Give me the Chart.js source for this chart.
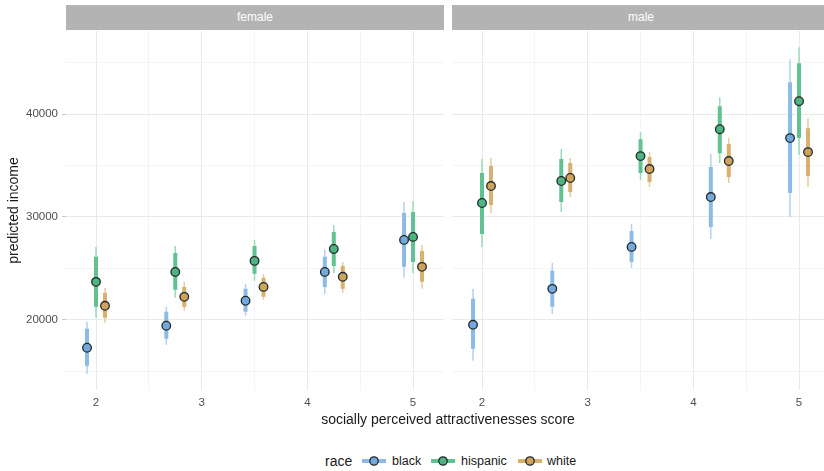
<!DOCTYPE html>
<html>
<head>
<meta charset="utf-8">
<script src="https://cdn.jsdelivr.net/npm/chart.js@4.4.1/dist/chart.umd.min.js"></script>
<style>
  html, body { margin: 0; padding: 0; background: #fff; overflow: hidden; }
  #fig { position: relative; width: 824px; height: 471px; overflow: hidden;
         font-family: "Liberation Sans", Arial, sans-serif; background: #fff; }
  .panel { position: absolute; top: 0; height: 420px; }
  .strip { position: absolute; top: 5px; height: 25px; width: 378px; background: #b3b3b3;
           color: #fff; font-size: 12px; line-height: 25px; text-align: center; }
  #xtitle { position: absolute; left: 0; width: 896px; top: 411px; text-align: center;
            font-size: 14px; line-height: 16px; color: #1a1a1a; white-space: nowrap; }
  .leg { position: absolute; top: 453px; line-height: 16px; color: #1a1a1a; white-space: nowrap; }
  .legkey { position: absolute; top: 454px; }
</style>
</head>
<body>
<div id="fig">
  <div class="panel" style="left:0;width:444px;"><canvas id="female" width="444" height="420"></canvas></div>
  <div class="panel" style="left:452px;width:378px;"><canvas id="male" width="378" height="420"></canvas></div>
  <div class="strip" style="left:66px;">female</div>
  <div class="strip" style="left:452px;">male</div>
  <div id="xtitle">socially perceived attractivenesses score</div>
  <div id="legend"></div>
</div>
<script>
// attractiveness scores where predictions were made
const scores = [2, 2.75, 3.5, 4.25, 5];
const races = ['black', 'hispanic', 'white'];
const xTickValues = [2, 2.5, 3, 3.5, 4, 4.5, 5];
const yTickValues = [15000, 20000, 25000, 30000, 35000, 40000, 45000];

// predicted income per score, each row: [lower 95%, lower 66%, median, upper 66%, upper 95%]
const femaleBlack = [
  [14760, 15530, 17280, 19130, 19810],
  [17570, 18150, 19420, 20780, 21260],
  [20390, 20780, 21850, 23010, 23500],
  [22520, 23200, 24660, 26120, 26800],
  [24080, 25150, 27770, 30390, 31460]
];
const femaleHispanic = [
  [20190, 21260, 23690, 26120, 27090],
  [22140, 22910, 24660, 26500, 27180],
  [23790, 24470, 25730, 27180, 27770],
  [24560, 25240, 26890, 28540, 29220],
  [24560, 25630, 28060, 30490, 31550]
];
const femaleWhite = [
  [19710, 20190, 21360, 22620, 23110],
  [20870, 21260, 22230, 23200, 23690],
  [21940, 22230, 23200, 24080, 24470],
  [22620, 23010, 24180, 25240, 25630],
  [23010, 23690, 25150, 26700, 27280]
];
const maleBlack = [
  [16020, 17180, 19510, 22040, 23010],
  [20580, 21260, 23010, 24760, 25530],
  [25050, 25630, 27090, 28640, 29320],
  [27860, 29030, 31940, 34850, 36120],
  [30000, 32330, 37670, 43110, 45340]
];
const maleHispanic = [
  [27090, 28350, 31360, 34270, 35630],
  [30490, 31460, 33500, 35630, 36600],
  [33590, 34270, 35920, 37570, 38250],
  [35240, 36210, 38540, 40780, 41650],
  [36020, 37670, 41260, 44950, 46510]
];
const maleWhite = [
  [30390, 31170, 33010, 34950, 35730],
  [31940, 32430, 33790, 35240, 35730],
  [32910, 33400, 34660, 35830, 36310],
  [33300, 33880, 35440, 37090, 37670],
  [32910, 33980, 36310, 38640, 39610]
];

// shared axis limits of both facets
const xMin = 1.716, xMax = 5.293;
const yMin = 13170, yMax = 48090;

const palette = {
  black:    { point: '#74a9dd', inner: '#8dbbe7', outer: '#b3d1ef' },
  hispanic: { point: '#4fb47f', inner: '#5fc290', outer: '#9cd9b8' },
  white:    { point: '#cfa35b', inner: '#d8b06f', outer: '#e6cb9f' }
};
const dodge = { black: -0.085, hispanic: 0, white: 0.085 };
const FONT = '"Liberation Sans", Arial, sans-serif';
const MAJOR = '#e9e9e9', MINOR = '#f4f4f4';

function segments(rows, race, lo, hi) {
  const pts = [];
  rows.forEach((r, i) => {
    const x = scores[i] + dodge[race];
    pts.push({ x: x, y: r[lo] }, { x: x, y: r[hi] }, { x: x, y: null });
  });
  return pts;
}

function medians(rows, race) {
  return rows.map((r, i) => ({ x: scores[i] + dodge[race], y: r[2] }));
}

function buildDatasets(groups) {
  const ds = [];
  races.forEach(race => {
    const rows = groups[race];
    const c = palette[race];
    ds.push({
      label: race + ' 95%', data: segments(rows, race, 0, 4), order: 3,
      borderColor: c.outer, borderWidth: 1.5, pointRadius: 0, spanGaps: false,
      fill: false, tension: 0, borderCapStyle: 'butt'
    });
    ds.push({
      label: race + ' 66%', data: segments(rows, race, 1, 3), order: 2,
      borderColor: c.inner, borderWidth: 4, pointRadius: 0, spanGaps: false,
      fill: false, tension: 0, borderCapStyle: 'butt'
    });
    ds.push({
      label: race, data: medians(rows, race), order: 1, showLine: false,
      pointRadius: 4.3, pointBorderWidth: 1.3,
      pointBackgroundColor: c.point, pointBorderColor: '#1f2a2a'
    });
  });
  return ds;
}

function makePanel(id, groups, withYAxis) {
  return new Chart(document.getElementById(id), {
    type: 'line',
    data: { datasets: buildDatasets(groups) },
    options: {
      responsive: false, animation: false, devicePixelRatio: 1, events: [],
      layout: { autoPadding: false, padding: { top: 31, left: 0, right: 0, bottom: 0 } },
      plugins: { legend: { display: false }, tooltip: { enabled: false } },
      scales: {
        x: {
          type: 'linear', min: xMin, max: xMax,
          afterBuildTicks: s => { s.ticks = xTickValues.map(v => ({ value: v })); },
          afterFit: s => { s.height = 30; },
          border: { display: false },
          grid: {
            drawTicks: false,
            color: ctx => (ctx.tick && Number.isInteger(ctx.tick.value)) ? MAJOR : MINOR
          },
          ticks: {
            autoSkip: false, maxRotation: 0, padding: 6, color: '#4d4d4d',
            font: { family: FONT, size: 11.5 },
            callback: v => Number.isInteger(v) ? String(v) : ''
          }
        },
        y: {
          type: 'linear', min: yMin, max: yMax,
          afterBuildTicks: s => { s.ticks = yTickValues.map(v => ({ value: v })); },
          afterFit: s => { s.width = withYAxis ? 66 : 0; },
          border: { display: false },
          grid: {
            drawTicks: withYAxis, tickLength: 4,
            color: ctx => (ctx.tick && ctx.tick.value % 10000 === 0) ? MAJOR : MINOR,
            tickColor: ctx => (ctx.tick && ctx.tick.value % 10000 === 0) ? '#c8c8c8' : 'rgba(0,0,0,0)'
          },
          ticks: {
            display: withYAxis, autoSkip: false, padding: 4, color: '#4d4d4d',
            font: { family: FONT, size: 11.5 },
            callback: v => (v % 10000 === 0) ? String(v) : ''
          },
          title: {
            display: withYAxis, text: 'predicted income', color: '#1a1a1a',
            font: { family: FONT, size: 14 }, padding: { top: 6, bottom: 0 }
          }
        }
      }
    }
  });
}

makePanel('female', { black: femaleBlack, hispanic: femaleHispanic, white: femaleWhite }, true);
makePanel('male', { black: maleBlack, hispanic: maleHispanic, white: maleWhite }, false);

// legend: title followed by a key (interval bar with point) per race
const legend = document.getElementById('legend');
const legendLayout = [
  { text: 'race', left: 325, size: 14 },
  { key: 'black', left: 362 }, { text: 'black', left: 392, size: 12.5 },
  { key: 'hispanic', left: 431 }, { text: 'hispanic', left: 461, size: 12.5 },
  { key: 'white', left: 518 }, { text: 'white', left: 547, size: 12.5 }
];
legendLayout.forEach(item => {
  if (item.text) {
    const s = document.createElement('span');
    s.className = 'leg';
    s.style.left = item.left + 'px';
    s.style.fontSize = item.size + 'px';
    s.textContent = item.text;
    legend.appendChild(s);
  } else {
    const c = palette[item.key];
    const ns = 'http://www.w3.org/2000/svg';
    const svg = document.createElementNS(ns, 'svg');
    svg.setAttribute('class', 'legkey');
    svg.setAttribute('width', '24');
    svg.setAttribute('height', '14');
    svg.style.left = item.left + 'px';
    const line = document.createElementNS(ns, 'line');
    line.setAttribute('x1', '0'); line.setAttribute('x2', '24');
    line.setAttribute('y1', '7'); line.setAttribute('y2', '7');
    line.setAttribute('stroke', c.inner); line.setAttribute('stroke-width', '4');
    const dot = document.createElementNS(ns, 'circle');
    dot.setAttribute('cx', '12'); dot.setAttribute('cy', '7'); dot.setAttribute('r', '4.2');
    dot.setAttribute('fill', c.point); dot.setAttribute('stroke', '#1f2a2a');
    dot.setAttribute('stroke-width', '1.3');
    svg.appendChild(line); svg.appendChild(dot);
    legend.appendChild(svg);
  }
});
</script>
</body>
</html>
